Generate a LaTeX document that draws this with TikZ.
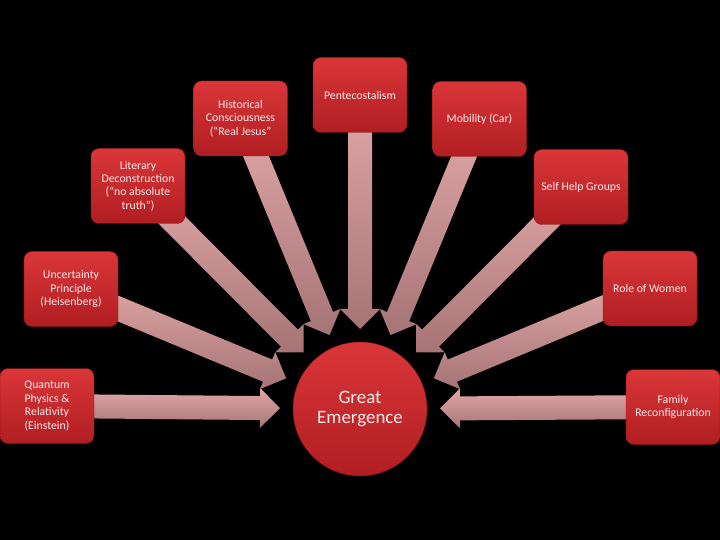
\documentclass[tikz,border=0pt]{standalone}
\usepackage{fontspec}
\setmainfont{Carlito}
\usetikzlibrary{calc}
\definecolor{bx1}{RGB}{218,54,56}
\definecolor{bx2}{RGB}{176,30,34}
\definecolor{bxe}{RGB}{140,18,22}
\definecolor{ar1}{RGB}{226,168,168}
\definecolor{ar2}{RGB}{166,116,118}
\definecolor{txt}{RGB}{245,235,235}
\pgfdeclarelayer{back}
\pgfdeclarelayer{arrows}
\pgfsetlayers{back,arrows,main}
\tikzset{
  box/.style={rectangle, rounded corners=8bp, minimum width=94bp, minimum height=75bp,
    inner sep=0pt, align=center, top color=bx1, bottom color=bx2, draw=bxe, line width=0.4pt,
    text=txt, font=\fontsize{11.8}{13.5}\selectfont},
  hub/.style={circle, minimum size=134bp, inner sep=0pt, align=center, top color=bx1,
    bottom color=bx2, draw=bxe, line width=0.4pt, text=txt, font=\fontsize{19}{21}\selectfont},
  arrfill/.style={top color=ar1, bottom color=ar2},
}
\newcommand{\blockarr}[1]{%
  \coordinate (t#1) at ($(GE.center)!80bp!(#1.center)$);
  \coordinate (h#1) at ($(GE.center)!100bp!(#1.center)$);
  \fill[arrfill] ($(#1.center)!12bp!90:(GE.center)$) -- ($(h#1)!12bp!90:(GE.center)$)
    -- ($(h#1)!20bp!90:(GE.center)$) -- (t#1) -- ($(h#1)!20bp!-90:(GE.center)$)
    -- ($(h#1)!12bp!-90:(GE.center)$) -- ($(#1.center)!12bp!-90:(GE.center)$) -- cycle;
}
\begin{document}
\begin{tikzpicture}[x=1bp,y=-1bp]
\begin{pgfonlayer}{back}
  \fill[black] (0,0) rectangle (720,540);
\end{pgfonlayer}
\useasboundingbox (0,0) rectangle (720,540);

\node[hub] (GE) at (360,409) {Great\\Emergence};

\node[box] (hist) at (240.5,118.5) {Historical\\Consciousness\\(“Real Jesus”};
\node[box] (pent) at (360,95) {Pentecostalism};
\node[box] (mob) at (479.5,119) {Mobility (Car)};
\node[box] (lit) at (138,186) {Literary\\Deconstruction\\(“no absolute\\truth”)};
\node[box] (self) at (581,187) {Self Help Groups};
\node[box] (unc) at (71,289) {Uncertainty\\Principle\\(Heisenberg)};
\node[box] (role) at (650,288.5) {Role of Women};
\node[box] (quant) at (47,406) {Quantum\\Physics \&\\Relativity\\(Einstein)};
\node[box] (fam) at (673,407) {Family\\Reconfiguration};

\begin{pgfonlayer}{arrows}
  \blockarr{hist}
  \blockarr{pent}
  \blockarr{mob}
  \blockarr{lit}
  \blockarr{self}
  \blockarr{unc}
  \blockarr{role}
  \blockarr{quant}
  \blockarr{fam}
\end{pgfonlayer}
\end{tikzpicture}
\end{document}
